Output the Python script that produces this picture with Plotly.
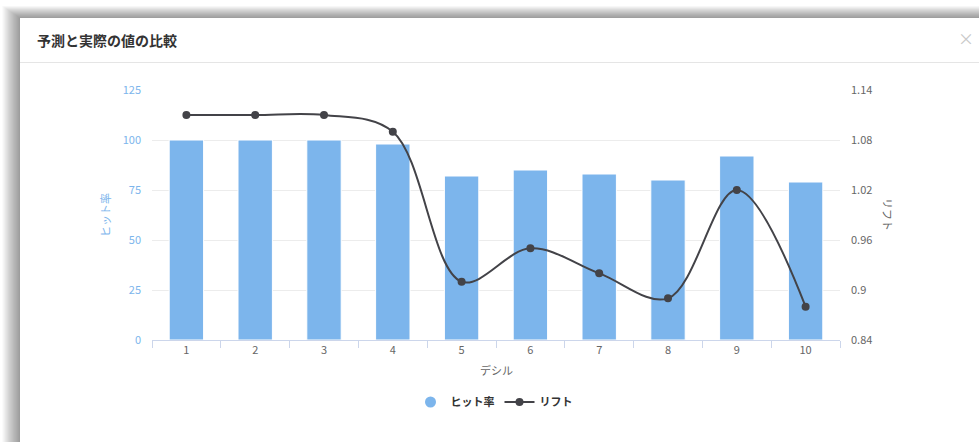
import plotly.graph_objects as go

# Decile comparison: hit rate (bars, left axis) and lift (spline, right axis)
deciles = ["1", "2", "3", "4", "5", "6", "7", "8", "9", "10"]
hit_rate = [100, 100, 100, 98, 82, 85, 83, 80, 92, 79]
lift = [1.11, 1.11, 1.11, 1.09, 0.91, 0.95, 0.92, 0.89, 1.02, 0.88]

left_ticks = [0, 25, 50, 75, 100, 125]
right_ticks = [0.84, 0.90, 0.96, 1.02, 1.08, 1.14]
right_tick_text = ["0.84", "0.9", "0.96", "1.02", "1.08", "1.14"]

W, H = 979, 442
PL, PR, PT, PB = 152, 840, 90, 340  # plot area in pixels

def px(x):
    return (x - PL) / (PR - PL)

def py(y):
    return (PB - y) / (PB - PT)

FONT = "Noto Sans CJK JP, Noto Sans, sans-serif"
BLUE = "#7cb5ec"
DARK = "#434348"

fig = go.Figure()

fig.add_trace(go.Bar(
    x=deciles, y=hit_rate, name="ヒット率", yaxis="y",
    marker=dict(color=BLUE, line=dict(color="#ffffff", width=1)),
    width=0.5, showlegend=False, legendgroup="hit",
))
fig.add_trace(go.Scatter(
    x=[None], y=[None], name="ヒット率", mode="markers",
    marker=dict(color=BLUE, size=11, symbol="circle"),
    legendgroup="hit", showlegend=True,
))
fig.add_trace(go.Scatter(
    x=deciles, y=lift, name="リフト", yaxis="y2", mode="lines+markers",
    line=dict(color=DARK, width=2, shape="spline", smoothing=1.0),
    marker=dict(color=DARK, size=8),
))

shapes = []
# dialog drop shadow
for i in range(1, 17):
    shapes.append(dict(
        type="rect", xref="paper", yref="paper", layer="below",
        x0=px(20 - i * 1.1), x1=px(W + 40),
        y0=py(18 - i * 0.75), y1=py(H + 40),
        fillcolor="rgba(0,0,0,0.028)", line=dict(width=0),
    ))
# dialog body
shapes.append(dict(
    type="rect", xref="paper", yref="paper", layer="below",
    x0=px(20), x1=px(W + 40), y0=py(18), y1=py(H + 40),
    fillcolor="#ffffff", line=dict(width=0),
))
# header divider
shapes.append(dict(
    type="line", xref="paper", yref="paper", layer="below",
    x0=px(20), x1=px(W + 40), y0=py(62.5), y1=py(62.5),
    line=dict(color="#e5e5e5", width=1),
))

annotations = [
    dict(text="<b>予測と実際の値の比較</b>", xref="paper", yref="paper",
         x=px(35), y=py(40), xanchor="left", yanchor="middle", showarrow=False,
         font=dict(family=FONT, size=14, color="#333333")),
    dict(text="×", xref="paper", yref="paper",
         x=px(966), y=py(38), xanchor="center", yanchor="middle", showarrow=False,
         font=dict(family=FONT, size=16, color="#c8c8c8")),
    dict(text="ヒット率", xref="paper", yref="paper",
         x=px(105), y=py(215), xanchor="center", yanchor="middle", showarrow=False,
         textangle=-90, font=dict(family=FONT, size=11, color=BLUE)),
    dict(text="リフト", xref="paper", yref="paper",
         x=px(888), y=py(215), xanchor="center", yanchor="middle", showarrow=False,
         textangle=90, font=dict(family=FONT, size=11, color="#666666")),
    dict(text="デシル", xref="paper", yref="paper",
         x=px(496), y=py(370), xanchor="center", yanchor="middle", showarrow=False,
         font=dict(family=FONT, size=11, color="#666666")),
]

fig.update_layout(
    width=W, height=H,
    margin=dict(l=PL, r=W - PR, t=PT, b=H - PB, pad=0),
    paper_bgcolor="#ffffff", plot_bgcolor="rgba(0,0,0,0)",
    font=dict(family=FONT, size=11, color="#666666"),
    bargap=0.5,
    xaxis=dict(
        type="category", tickson="boundaries", ticks="outside", ticklen=7,
        tickcolor="#ccd6eb", showline=True, linecolor="#ccd6eb", linewidth=1,
        showgrid=False, tickfont=dict(size=11, color="#666666"),
        range=[-0.5, 9.5], fixedrange=True,
    ),
    yaxis=dict(
        range=[0, 125], tickvals=left_ticks, showgrid=True, gridcolor="#ececec",
        gridwidth=1, zeroline=False, showline=False,
        tickfont=dict(size=11, color=BLUE), ticklabelstandoff=10,
    ),
    yaxis2=dict(
        range=[0.84, 1.14], tickvals=right_ticks, ticktext=right_tick_text,
        overlaying="y", side="right", showgrid=False, zeroline=False,
        showline=False, tickfont=dict(size=11, color="#666666"),
        ticklabelstandoff=10,
    ),
    legend=dict(
        orientation="h", xref="paper", yref="paper",
        x=px(494), y=py(402), xanchor="center", yanchor="middle",
        font=dict(family=FONT, size=11, color="#333333", weight="bold"),
        bgcolor="rgba(0,0,0,0)", itemwidth=30,
    ),
    shapes=shapes,
    annotations=annotations,
    hovermode=False,
)

fig.write_html("out.html")
